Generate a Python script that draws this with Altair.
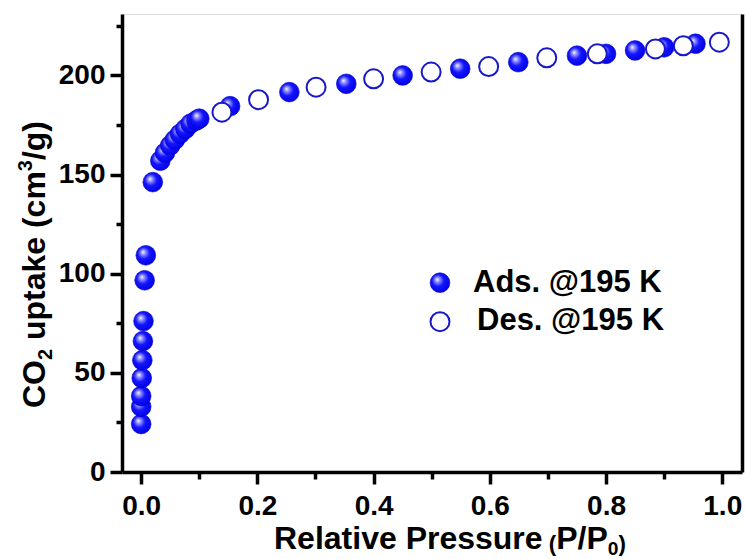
import altair as alt
import pandas as pd

# ---------------- data ----------------
ads_p = [0.0, 0.0, 0.0, 0.001, 0.002, 0.003, 0.004, 0.006, 0.008, 0.02, 0.033, 0.041,
         0.05, 0.058, 0.067, 0.076, 0.085, 0.095, 0.10, 0.153, 0.255, 0.353, 0.45,
         0.549, 0.649, 0.75, 0.80, 0.85, 0.90, 0.954]
ads_v = [24.2, 32.9, 38.3, 47.4, 56.4, 66.0, 76.1, 96.7, 109.3, 146.2, 157.0, 161.0,
         164.7, 167.6, 170.6, 173.0, 175.7, 177.3, 178.2, 184.5, 191.6, 195.8, 200.0,
         203.4, 206.7, 210.0, 210.9, 212.6, 214.2, 216.0]
des_p = [0.139, 0.202, 0.301, 0.40, 0.499, 0.598, 0.698, 0.785, 0.885, 0.933, 0.995]
des_v = [181.5, 187.8, 194.1, 198.3, 201.7, 204.5, 208.9, 210.9, 213.4, 215.0, 216.8]

legend_labels = ["Ads. @195 K", "Des. @195 K"]
x_major_ticks = [0.0, 0.2, 0.4, 0.6, 0.8, 1.0]
x_minor_ticks = [0.1, 0.3, 0.5, 0.7, 0.9]
y_major_ticks = [0, 50, 100, 150, 200]
y_minor_ticks = [25, 75, 125, 175, 225]

# ---------------- layout / style ----------------
FONT = "Liberation Sans"
W, H = 620, 458
XDOM = [-0.033, 1.034]
YDOM = [0, 231]
DES_BLUE = "#1818C8"

ads_fill = alt.RadialGradient(
    gradient="radial",
    stops=[alt.GradientStop(offset=0.0, color="#FFFFFF"),
           alt.GradientStop(offset=0.18, color="#9A9AFF"),
           alt.GradientStop(offset=0.5, color="#1515FF"),
           alt.GradientStop(offset=1.0, color="#0000E0")],
    x1=0.35, y1=0.33, r1=0.0, x2=0.45, y2=0.45, r2=0.6,
)

df_ads = pd.DataFrame({"p": ads_p, "v": ads_v})
df_des = pd.DataFrame({"p": des_p, "v": des_v})
one = pd.DataFrame({"a": [0]})

xs = alt.Scale(domain=XDOM, nice=False, zero=False)
ys = alt.Scale(domain=YDOM, nice=False, zero=False)

common = dict(domainColor="black", domainWidth=3.5, tickColor="black", tickWidth=3.5,
              grid=False, labelFont=FONT, labelFontSize=28, labelFontWeight="bold",
              labelColor="black", title=None, labelOverlap=False, labelFlush=False)

x_major = alt.Axis(orient="bottom", values=x_major_ticks, format=".1f", tickSize=12,
                   labelPadding=8, **common)
x_minor = alt.Axis(orient="bottom", values=x_minor_ticks, labels=False, tickSize=7,
                   domain=False, **common)
y_major = alt.Axis(orient="left", values=y_major_ticks, format="d", tickSize=12,
                   labelPadding=5, **common)
y_minor = alt.Axis(orient="left", values=y_minor_ticks, labels=False, tickSize=6,
                   domain=False, **common)
y_right = alt.Axis(orient="right", ticks=False, labels=False, domain=True, **common)

SIZE_ADS = 390
SIZE_DES = 360

ads = alt.Chart(df_ads).mark_circle(size=SIZE_ADS, opacity=1, fill=ads_fill,
                                    stroke="#0000C8", strokeWidth=0.6).encode(
    x=alt.X("p:Q", scale=xs, axis=x_major),
    y=alt.Y("v:Q", scale=ys, axis=y_major),
)
des = alt.Chart(df_des).mark_circle(size=SIZE_DES, opacity=1, fill="white",
                                    stroke=DES_BLUE, strokeWidth=2).encode(
    x=alt.X("p:Q", scale=xs, axis=x_minor),
    y=alt.Y("v:Q", scale=ys, axis=y_minor),
)
spine = alt.Chart(df_des).mark_point(opacity=0).encode(
    x=alt.X("p:Q", scale=xs, axis=None),
    y=alt.Y("v:Q", scale=ys, axis=y_right),
)

# ---------------- text helpers (titles with sub/superscripts) ----------------
AW = {" ": 278, "(": 333, ")": 333, "/": 278, ".": 278, "@": 975, "A": 722, "C": 722,
      "D": 722, "K": 722, "O": 778, "P": 667, "R": 722, "a": 556, "c": 556, "d": 611,
      "e": 556, "g": 611, "i": 278, "k": 556, "l": 278, "m": 889, "p": 611, "r": 389,
      "s": 556, "t": 333, "u": 611, "v": 556}
for ch in "0123456789":
    AW[ch] = 556


def tw(s, size):
    return sum(AW.get(c, 556) for c in s) * size / 1000.0


def seg(text, x, y, size, angle=0):
    kw = dict(text=text, font=FONT, fontSize=size, fontWeight="bold", color="black",
              align="left", baseline="alphabetic")
    if angle:
        kw["angle"] = angle
    return alt.Chart(one).mark_text(**kw).encode(x=alt.value(x), y=alt.value(y))


texts = []
# x title: Relative Pressure (P/P0)
FS = 32
x0, yb = 152, 535
parts = [("Relative Pressure", FS, 0), (" (", 0.7 * FS, 2), ("P/P", FS, 0),
         ("0", 0.6 * FS, 6), (")", 0.7 * FS, 2)]
cx = x0
for t, s, dy in parts:
    lead = len(t) - len(t.lstrip(" "))
    texts.append(seg(t.lstrip(" "), cx + tw(" " * lead, s), yb + dy, s))
    cx += tw(t, s)

# y title: CO2 uptake (cm3/g), rotated, reads bottom-to-top
FSY = 32
xb, y0 = -77, 394
parts = [("CO", FSY, 0), ("2", 0.62 * FSY, 7), (" uptake (cm", FSY, 0),
         ("3", 0.62 * FSY, -13), ("/g)", FSY, 0)]
cy = y0
for t, s, dx in parts:
    lead = len(t) - len(t.lstrip(" "))
    texts.append(seg(t.lstrip(" "), xb + dx, cy - tw(" " * lead, s), s, angle=270))
    cy -= tw(t, s)

# legend
leg_ads = alt.Chart(one).mark_circle(size=SIZE_ADS, opacity=1, fill=ads_fill,
                                     stroke="#0000C8", strokeWidth=0.6).encode(
    x=alt.value(318), y=alt.value(268.7))
leg_des = alt.Chart(one).mark_circle(size=SIZE_DES, opacity=1, fill="white",
                                     stroke=DES_BLUE, strokeWidth=2).encode(
    x=alt.value(318), y=alt.value(307.7))
texts.append(seg(legend_labels[0], 351, 277.5, 31))
texts.append(seg(legend_labels[1], 355, 315.5, 31))

chart = alt.layer(ads, des, spine, leg_ads, leg_des, *texts).resolve_axis(
    x="independent", y="independent"
).resolve_scale(x="shared", y="shared").properties(
    width=W, height=H,
    autosize=alt.AutoSizeParams(type="none"),
    padding={"left": 122, "top": 14, "right": 4, "bottom": 87},
).configure_view(stroke=None).configure(background="white")

chart.save("out.html", embed_options={"renderer": "svg", "actions": False})
